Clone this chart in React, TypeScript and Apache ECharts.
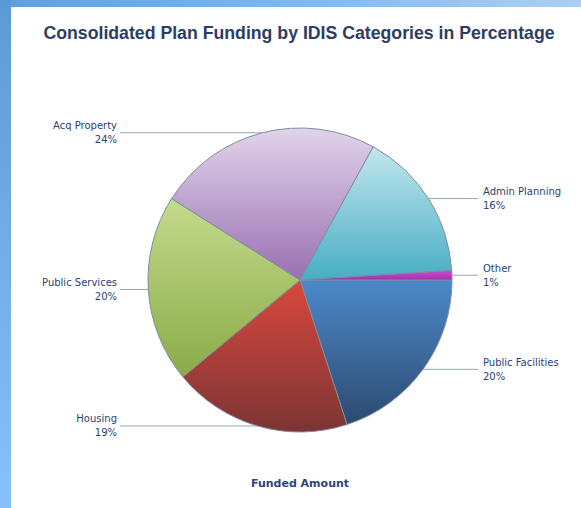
import React, { useEffect, useRef } from "react";
import * as echarts from "echarts";

const categories = ["Public Facilities", "Housing", "Public Services", "Acq Property", "Admin Planning", "Other"];
const percentages = [20, 19, 20, 24, 16, 1];
const topColors = ["#4c89ca", "#d8493d", "#c4db8c", "#e2d3ea", "#c2e7ee", "#c84ad0"];
const bottomColors = ["#2c4a70", "#7c3434", "#8aab48", "#9870b2", "#46aec3", "#a82fb0"];

const TITLE = "Consolidated Plan Funding by IDIS Categories in Percentage";
const SUBTITLE = "Funded Amount";

const CX = 300;
const CY = 280;
const R = 152;

export default function App() {
  const ref = useRef<HTMLDivElement>(null);
  useEffect(() => {
    if (!ref.current) return;
    const chart = echarts.init(ref.current, null, { renderer: "svg" });
    const data = categories.map((name, i) => ({
      name,
      value: percentages[i],
      itemStyle: {
        color: new echarts.graphic.LinearGradient(0, 0, 0, 1, [
          { offset: 0, color: topColors[i] },
          { offset: 1, color: bottomColors[i] },
        ]),
      },
    }));
    chart.setOption({
      animation: false,
      backgroundColor: "#ffffff",
      graphic: [
        {
          type: "rect",
          left: 0,
          top: 0,
          shape: { width: 581, height: 7 },
          style: {
            fill: new echarts.graphic.LinearGradient(0, 0, 1, 0, [
              { offset: 0, color: "#5e9fdd" },
              { offset: 0.5, color: "#7db7f0" },
              { offset: 1, color: "#acd0f4" },
            ]),
          },
          silent: true,
          z: -1,
        },
        {
          type: "rect",
          left: 0,
          top: 0,
          shape: { width: 11, height: 508 },
          style: {
            fill: new echarts.graphic.LinearGradient(0, 0, 0, 1, [
              { offset: 0, color: "#5c9ad6" },
              { offset: 1, color: "#88c1fa" },
            ]),
          },
          silent: true,
          z: -1,
        },
        {
          type: "text",
          x: 299,
          y: 33,
          style: {
            text: TITLE,
            align: "center",
            verticalAlign: "middle",
            font: "bold 17.7px 'Liberation Sans', Arial, sans-serif",
            fill: "#2c3d63",
          },
          silent: true,
        },
        {
          type: "text",
          x: 300,
          y: 483,
          style: {
            text: SUBTITLE,
            align: "center",
            verticalAlign: "middle",
            font: "bold 11px 'DejaVu Sans', sans-serif",
            fill: "#2d4679",
          },
          silent: true,
        },
      ],
      series: [
        {
          type: "pie",
          center: [CX, CY],
          radius: R,
          startAngle: 0,
          clockwise: true,
          avoidLabelOverlap: false,
          itemStyle: { borderColor: "#7f8e9e", borderWidth: 1 },
          label: {
            show: true,
            position: "outside",
            formatter: (p: any) => `${p.name}\n${p.value}%`,
            fontFamily: "DejaVu Sans, sans-serif",
            fontSize: 10,
            lineHeight: 14,
            color: "#2b3f72",
          },
          labelLine: {
            show: true,
            length: 0,
            length2: 20,
            lineStyle: { color: "#93a9b3", width: 1 },
          },
          labelLayout: (params: any) => {
            const pts = params.labelLinePoints;
            if (!pts) return {};
            const ex = pts[0][0];
            const ey = pts[0][1];
            const isLeft = ex < CX;
            const endX = isLeft ? 120 : 478;
            return {
              x: isLeft ? 117 : 483,
              y: ey,
              align: isLeft ? "right" : "left",
              verticalAlign: "middle",
              labelLinePoints: [
                [ex, ey],
                [ex, ey],
                [endX, ey],
              ],
            };
          },
          data,
        },
      ],
    });
    return () => chart.dispose();
  }, []);
  return (
    <div
      ref={ref}
      style={{ position: "fixed", left: 0, top: 0, width: 581, height: 508 }}
    />
  );
}
